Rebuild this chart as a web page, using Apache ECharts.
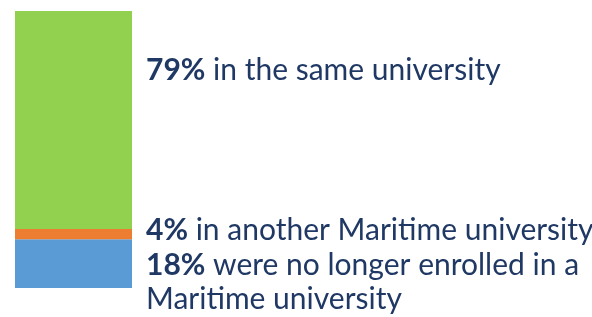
<!DOCTYPE html>
<html><head><meta charset="utf-8">
<script src="https://cdn.jsdelivr.net/npm/echarts@6/dist/echarts.min.js"></script>
<style>html,body{margin:0;padding:0;background:#fff}#c{width:592px;height:317px}</style>
</head><body><div id="c"></div>
<script>
const categories = ['Outcome'];
const seriesNames = ['no longer enrolled', 'another Maritime university', 'same university'];
const values = [17.6, 3.7, 78.7];
const pctLabels = ['18%', '4%', '79%'];
const labelTexts = ['were no longer enrolled in a\nMaritime university', 'in another Maritime university', 'in the same university'];
const colors = ['#5B9BD5', '#ED7D31', '#92D050'];
const offsets = [[0, 19], [0, -4], [0, -50]];

const total = values.reduce((a, b) => a + b, 0);
const chart = echarts.init(document.getElementById('c'));
const textColor = '#1F3864';
const fontFamily = 'Lato';
const fs = 30;
chart.setOption({
  animation: false,
  grid: {left: 15, top: 11, width: 117, bottom: 29, containLabel: false},
  xAxis: {type: 'category', data: categories, show: false},
  yAxis: {type: 'value', min: 0, max: total, show: false},
  series: values.map((v, i) => ({
    name: seriesNames[i],
    type: 'bar',
    stack: 'total',
    barWidth: '100%',
    data: [v],
    itemStyle: {color: colors[i]},
    label: {
      show: true,
      position: 'right',
      distance: 14,
      offset: offsets[i],
      formatter: () => {
        const lines = labelTexts[i].split('\n');
        return '{b|' + pctLabels[i] + '}{n| ' + lines[0] + '}' + (lines[1] ? '\n{n|' + lines[1] + '}' : '');
      },
      rich: {
        b: {fontFamily, fontSize: fs, fontWeight: 'bold', color: textColor, lineHeight: 34},
        n: {fontFamily, fontSize: fs, color: textColor, lineHeight: 34}
      }
    }
  }))
});
</script></body></html>
